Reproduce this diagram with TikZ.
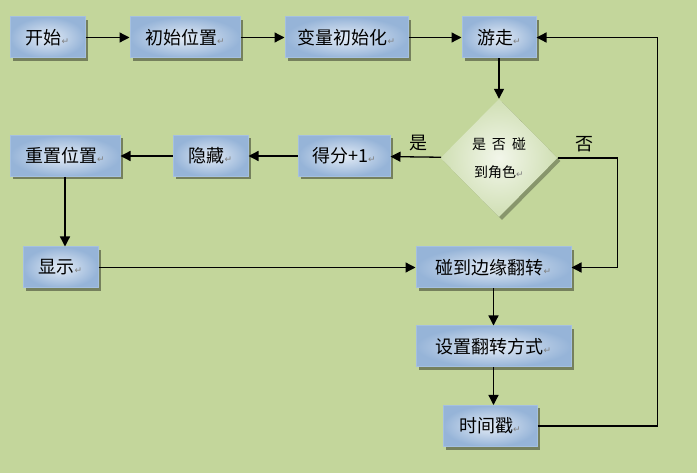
\documentclass[tikz,border=0pt]{standalone}
\usepackage{fontspec}
\setmainfont{Noto Sans CJK SC}
\newfontfamily\markfont{DejaVu Sans}
\usepackage{xcolor}
\usetikzlibrary{shapes.geometric,arrows.meta,shadows}
\definecolor{bgGreen}{RGB}{195,214,155}
\definecolor{boxBlue}{RGB}{150,180,216}
\definecolor{boxLight}{RGB}{228,236,246}
\definecolor{boxEdge}{RGB}{165,192,224}
\definecolor{diaGreen}{RGB}{208,223,180}
\definecolor{diaLight}{RGB}{242,246,234}
\newcommand{\retmark}{{\markfont\fontsize{9}{9}\selectfont\color{gray}↵}}

\begin{document}
\begin{tikzpicture}[x=1pt,y=-1pt,
    box/.style={draw=boxEdge, line width=1pt, inner color=boxLight,
      outer color=boxBlue, minimum height=41pt, inner sep=0pt,
      font=\fontsize{18}{20}\selectfont,
      drop shadow={shadow xshift=3pt, shadow yshift=-3pt,
        fill=black!40!bgGreen, opacity=1}},
    decision/.style={diamond, aspect=1, inner color=diaLight,
      outer color=diaGreen, minimum width=117pt, minimum height=118pt,
      inner sep=0pt, align=center, font=\fontsize{14}{28}\selectfont,
      drop shadow={shadow xshift=3pt, shadow yshift=-3pt,
        fill=black!30!bgGreen, opacity=1}},
    arr/.style={-{Triangle[length=10pt,width=10pt]}, line width=1.3pt},
    tag/.style={font=\fontsize{18}{20}\selectfont}
  ]
  \fill[bgGreen] (0,0) rectangle (697,473);
  \useasboundingbox (0,0) rectangle (697,473);

  % top row
  \node[box, minimum width=75pt] (start) at (47.5,37.5) {开始\retmark};
  \node[box, minimum width=110pt] (initpos) at (185,37.5) {初始位置\retmark};
  \node[box, minimum width=123pt] (initvar) at (346.5,37.5) {变量初始化\retmark};
  \node[box, minimum width=74pt] (wander) at (499,37.5) {游走\retmark};

  % decision
  \node[decision] (check) at (499,158) {是\hspace{6pt}否\hspace{6pt}碰\\到角色\retmark};

  % middle row
  \node[box, minimum width=92pt] (score) at (344,156) {得分+1\retmark};
  \node[box, minimum width=75pt] (hide) at (210.5,156) {隐藏\retmark};
  \node[box, minimum width=110pt] (reset) at (65,156) {重置位置\retmark};
  \node[box, minimum width=75pt] (show) at (60.5,267.5) {显示\retmark};

  % right column
  \node[box, minimum width=155pt] (bounce) at (493.5,267.5) {碰到边缘翻转\retmark};
  \node[box, minimum width=155pt] (setmode) at (493.5,346.5) {设置翻转方式\retmark};
  \node[box, minimum width=94pt] (stamp) at (490,426) {时间戳\retmark};

  \draw[arr] (start) -- (initpos);
  \draw[arr] (initpos) -- (initvar);
  \draw[arr] (initvar) -- (wander);
  \draw[arr] (wander) -- (check);
  \draw[arr] (check) -- (score) node[tag, pos=0.45, above=2pt] {是};
  \draw[arr] (score) -- (hide);
  \draw[arr] (hide) -- (reset);
  \draw[arr] (reset.south) -- (reset.south |- show.north);
  \draw[arr] (show) -- (bounce);
  \draw[arr] (check.east) -- ++(60,0) node[tag, pos=0.45, above=2pt] {否} |- (bounce.east);
  \draw[arr] (bounce.south) -- (bounce.south |- setmode.north);
  \draw[arr] (setmode.south) -- (setmode.south |- stamp.north);
  \draw[arr] (stamp.east) -- ++(120,0) |- (wander.east);
\end{tikzpicture}
\end{document}
